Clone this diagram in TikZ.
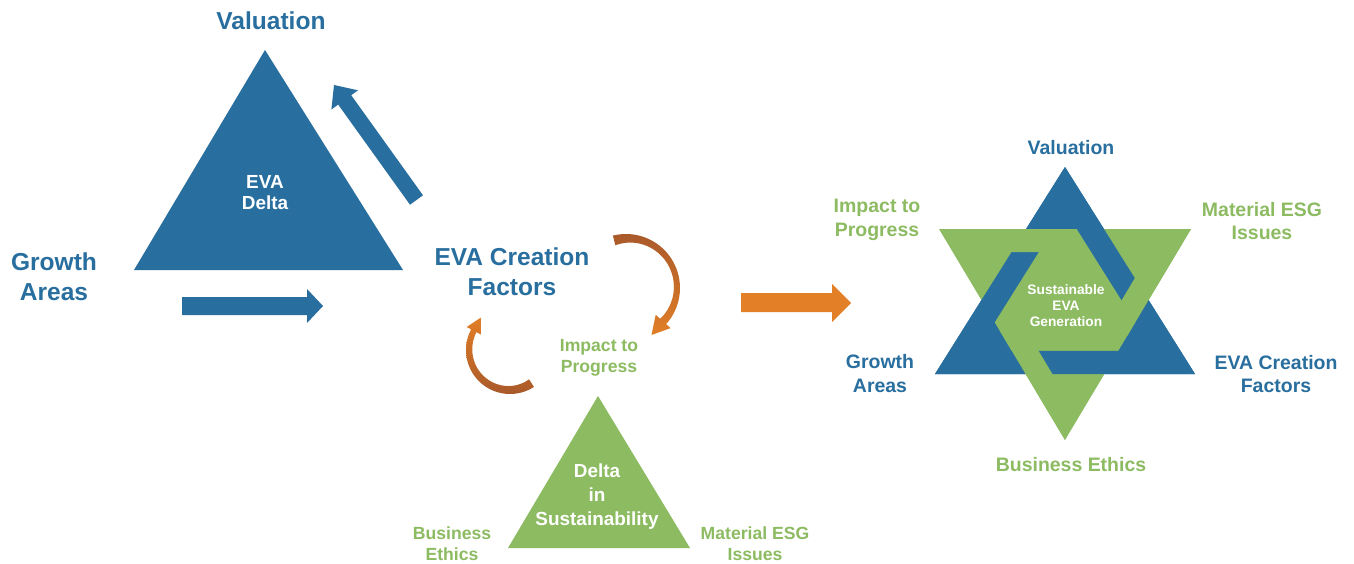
\documentclass[tikz,border=0pt]{standalone}
\usepackage{fontspec}
\setmainfont{Liberation Sans}
\usetikzlibrary{calc}
\definecolor{eblue}{HTML}{286E9E}
\definecolor{egreen}{HTML}{8DBB62}
\definecolor{eorange}{HTML}{E27F27}
\definecolor{edark}{HTML}{A9592A}
\begin{document}
\begin{tikzpicture}[x=0.75pt,y=-0.75pt,
  big/.style={font=\fontsize{18.4}{22.5}\selectfont\bfseries, text=eblue, align=center, inner sep=0pt},
  mid/.style={font=\fontsize{13.2}{15.8}\selectfont\bfseries, text=egreen, align=center, inner sep=0pt},
  starlbl/.style={font=\fontsize{14.6}{17.6}\selectfont\bfseries, align=center, inner sep=0pt},
  inside/.style={font=\fontsize{14.2}{15.8}\selectfont\bfseries, text=white, align=center, inner sep=0pt},
  declare function={wa(\x)=10-14*((104-\x)/146)+12*((104-\x)/146)^2;
                    wb(\x)=9-5*((-57-\x)/151)+2*((-57-\x)/151)^2;}]
\useasboundingbox (0,0) rectangle (1354,564);
\fill[white] (0,0) rectangle (1354,564);

% ---------- EVA delta triangle with its two arrows ----------
\coordinate (tA) at (265,50);
\coordinate (tL) at (134,270);
\coordinate (tR) at (403,270);
\fill[eblue] (tA) -- (tL) -- (tR) -- cycle;
\node[inside] (evadelta) at (265,192.5) {EVA\\Delta};

\fill[eblue] (423,195.3) -- (351.2,95.2) -- (358,90.3) -- (334,85)
  -- (331.4,109.5) -- (338.2,104.6) -- (410,204.7) -- cycle;
\fill[eblue] (182,297) -- (307,297) -- (307,289) -- (323,306)
  -- (307,323) -- (307,315) -- (182,315) -- cycle;

\node[big] (valL) at (271,21) {Valuation};
\node[big] (growthL) at (54,277) {Growth\\Areas};
\node[big] (creation) at (512,271.5) {EVA Creation\\Factors};

% ---------- curved cycle arrows ----------
\shade[top color=edark, bottom color=eorange]
  plot[domain=104:-42, samples=40, variable=\t] ({626+54*cos(\t)},{288-54*sin(\t)})
  -- (670.6,328.1) -- (651.5,335) -- (655.7,314.8)
  -- plot[domain=-42:104, samples=40, variable=\t] ({626+(54-wa(\t))*cos(\t)},{288-(54-wa(\t))*sin(\t)})
  -- cycle;
\shade[top color=eorange, bottom color=edark]
  plot[domain=-57:-208, samples=40, variable=\t] ({510+44*cos(\t)},{350-44*sin(\t)})
  -- (466.7,327.0) -- (480.8,317.6) -- (480.9,334.5)
  -- plot[domain=-208:-57, samples=40, variable=\t] ({510+(44-wb(\t))*cos(\t)},{350-(44-wb(\t))*sin(\t)})
  -- cycle;

\node[mid] (impactM) at (599,357.5) {Impact to\\Progress};

% ---------- sustainability delta triangle ----------
\coordinate (sA) at (598,396);
\coordinate (sL) at (508,548);
\coordinate (sR) at (690,548);
\fill[egreen] (sA) -- (sL) -- (sR) -- cycle;
\node[inside, font=\fontsize{14.2}{18}\selectfont\bfseries] (deltaSus) at (597,497) {Delta\\in\\Sustainability};
\node[mid] (ethicsM) at (452,543.5) {Business\\Ethics};
\node[mid] (materialM) at (755,543.5) {Material ESG\\Issues};

% ---------- transition arrow ----------
\fill[eorange] (741,293) -- (832,293) -- (832,284) -- (851,303)
  -- (832,322) -- (832,312) -- (741,312) -- cycle;

% ---------- interlaced star ----------
\coordinate (bA) at (1065,167);
\coordinate (bL) at (935,374);
\coordinate (bR) at (1195,374);
\coordinate (bI) at (1065,302.1);
\coordinate (biA) at ($(bI)!0.68!(bA)$);
\coordinate (biL) at ($(bI)!0.68!(bL)$);
\coordinate (biR) at ($(bI)!0.68!(bR)$);
\coordinate (gL) at (939,229);
\coordinate (gR) at (1191,229);
\coordinate (gB) at (1065,440);
\coordinate (gI) at (1065,300.5);
\coordinate (giL) at ($(gI)!0.678!(gL)$);
\coordinate (giR) at ($(gI)!0.678!(gR)$);
\coordinate (giB) at ($(gI)!0.678!(gB)$);
\coordinate (wc) at (1065,300);

\fill[eblue] (bA) -- (bL) -- (bR) -- cycle;
\fill[egreen] (gL) -- (gR) -- (gB) -- cycle;
% blue band runs over the green one everywhere first
\fill[eblue, even odd rule] (bA) -- (bL) -- (bR) -- cycle (biA) -- (biL) -- (biR) -- cycle;
% green band laid back on top at alternate crossings
\begin{scope}
  \clip (wc) -- +(-90:220) -- +(-120:220) -- +(-150:220) -- cycle;
  \fill[egreen, even odd rule] (gL) -- (gR) -- (gB) -- cycle (giL) -- (giR) -- (giB) -- cycle;
\end{scope}
\begin{scope}
  \clip (wc) -- +(30:220) -- +(0:220) -- +(-30:220) -- cycle;
  \fill[egreen, even odd rule] (gL) -- (gR) -- (gB) -- cycle (giL) -- (giR) -- (giB) -- cycle;
\end{scope}
\begin{scope}
  \clip (wc) -- +(-205:220) -- +(-237:220) -- +(-270:220) -- cycle;
  \fill[egreen, even odd rule] (gL) -- (gR) -- (gB) -- cycle (giL) -- (giR) -- (giB) -- cycle;
\end{scope}

\node[font=\fontsize{10.3}{12}\selectfont\bfseries, text=white, align=center, inner sep=0pt] (sustS) at (1066,306) {Sustainable\\EVA\\Generation};

\node[starlbl, text=eblue] (valS) at (1071,148) {Valuation};
\node[starlbl, text=egreen] (impactS) at (877,220) {Impact to\\Progress};
\node[starlbl, text=egreen] (materialS) at (1262,221) {Material ESG\\Issues};
\node[starlbl, text=eblue] (growthS) at (880,373.5) {Growth\\Areas};
\node[starlbl, text=eblue] (creationS) at (1276,374) {EVA Creation\\Factors};
\node[starlbl, text=egreen] (ethicsS) at (1071,465) {Business Ethics};
\end{tikzpicture}
\end{document}
